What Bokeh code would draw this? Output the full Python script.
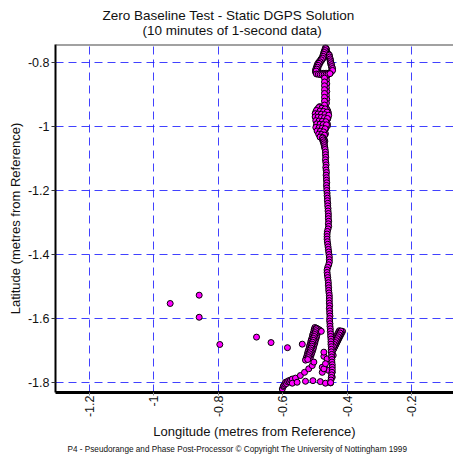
from math import pi
from bokeh.plotting import figure
from bokeh.models import FixedTicker, Span, Title
from bokeh.embed import file_html
from bokeh.resources import INLINE

title_line1 = "Zero Baseline Test - Static DGPS Solution"
title_line2 = "(10 minutes of 1-second data)"
x_label = "Longitude (metres from Reference)"
y_label = "Latitude (metres from Reference)"
footer = "P4 - Pseudorange and Phase Post-Processor \u00a9 Copyright The University of Nottingham 1999"

x_ticks = [-1.2, -1.0, -0.8, -0.6, -0.4, -0.2]
x_tick_labels = ["-1.2", "-1", "-0.8", "-0.6", "-0.4", "-0.2"]
y_ticks = [-1.8, -1.6, -1.4, -1.2, -1.0, -0.8]
y_tick_labels = ["-1.8", "-1.6", "-1.4", "-1.2", "-1", "-0.8"]

# dense cluster at the top of the track
top_lon = [-0.467, -0.469, -0.471, -0.473, -0.475, -0.477, -0.481, -0.485, -0.489, -0.492,
           -0.494, -0.496, -0.498, -0.498, -0.492, -0.486, -0.480, -0.474, -0.468,
           -0.462, -0.465, -0.458, -0.456, -0.455, -0.453, -0.452, -0.451, -0.449, -0.448,
           -0.446, -0.448, -0.452, -0.458, -0.463,
           -0.467, -0.468, -0.467, -0.466, -0.467, -0.468, -0.467, -0.466, -0.467, -0.468,
           -0.467, -0.466, -0.467, -0.468, -0.467, -0.467,
           -0.485, -0.475, -0.465, -0.492, -0.480, -0.470, -0.460, -0.497, -0.487, -0.476,
           -0.463, -0.498, -0.488, -0.478, -0.467, -0.459, -0.496, -0.486, -0.475, -0.464,
           -0.493, -0.482, -0.471, -0.461, -0.495, -0.485, -0.474, -0.465, -0.491, -0.480,
           -0.470, -0.486, -0.476, -0.467, -0.481, -0.472]
top_lat = [-0.754, -0.760, -0.766, -0.772, -0.778, -0.785, -0.790, -0.796, -0.801, -0.806,
           -0.812, -0.818, -0.824, -0.830, -0.832, -0.833, -0.834, -0.834, -0.834,
           -0.768, -0.770, -0.774, -0.780, -0.786, -0.792, -0.798, -0.804, -0.810, -0.816,
           -0.822, -0.828, -0.832, -0.834, -0.834,
           -0.840, -0.846, -0.852, -0.858, -0.864, -0.870, -0.876, -0.882, -0.888, -0.894,
           -0.900, -0.906, -0.912, -0.918, -0.924, -0.930,
           -0.938, -0.940, -0.942, -0.946, -0.948, -0.950, -0.952, -0.955, -0.957, -0.958,
           -0.960, -0.965, -0.967, -0.968, -0.969, -0.972, -0.976, -0.977, -0.979, -0.981,
           -0.987, -0.989, -0.990, -0.992, -0.998, -0.999, -1.001, -1.003, -1.009, -1.011,
           -1.013, -1.019, -1.021, -1.023, -1.029, -1.031]

# second pass through the same top cluster (repeat visits)
top2_lon = [-0.464, -0.466, -0.468, -0.470, -0.472, -0.475, -0.479, -0.483, -0.486, -0.489,
            -0.491, -0.493, -0.493,
            -0.463, -0.464, -0.463, -0.464, -0.463, -0.464, -0.463, -0.464,
            -0.481, -0.471, -0.462, -0.489, -0.478, -0.468, -0.458, -0.494, -0.483, -0.472,
            -0.462, -0.492, -0.481, -0.470, -0.460, -0.490, -0.479, -0.468, -0.492, -0.481,
            -0.471, -0.461, -0.488, -0.477, -0.467, -0.484, -0.474, -0.477, -0.470, -0.474,
            -0.471, -0.469]
top2_lat = [-0.758, -0.764, -0.770, -0.776, -0.782, -0.788, -0.794, -0.800, -0.806, -0.812,
            -0.818, -0.824, -0.830,
            -0.843, -0.855, -0.867, -0.879, -0.891, -0.903, -0.915, -0.927,
            -0.943, -0.945, -0.947, -0.951, -0.953, -0.955, -0.957, -0.962, -0.963, -0.964,
            -0.966, -0.971, -0.972, -0.974, -0.976, -0.982, -0.984, -0.986, -0.993, -0.994,
            -0.996, -0.998, -1.004, -1.006, -1.008, -1.014, -1.016, -1.025, -1.027, -1.034,
            -1.040, -1.046]

# third pass through the top cluster
top3_lon = [-0.466, -0.468, -0.470, -0.472, -0.474, -0.476, -0.480, -0.484, -0.487, -0.490,
            -0.492, -0.494, -0.496,
            -0.455, -0.454, -0.452, -0.451, -0.450, -0.448, -0.447, -0.445, -0.445,
            -0.495, -0.489, -0.483, -0.477, -0.471, -0.465, -0.459, -0.453,
            -0.470, -0.470, -0.470, -0.470, -0.470, -0.470, -0.470, -0.470,
            -0.488, -0.478, -0.468, -0.495, -0.484, -0.473, -0.462, -0.499, -0.490, -0.480,
            -0.469, -0.457, -0.499, -0.490, -0.480, -0.470, -0.461, -0.497, -0.487, -0.477,
            -0.466, -0.494, -0.484, -0.474, -0.464, -0.497, -0.487, -0.477, -0.468, -0.493,
            -0.483, -0.473, -0.488, -0.479, -0.470, -0.484, -0.475, -0.476, -0.473, -0.471,
            -0.470]
top3_lat = [-0.757, -0.763, -0.769, -0.775, -0.781, -0.787, -0.792, -0.798, -0.803, -0.809,
            -0.815, -0.821, -0.827,
            -0.777, -0.783, -0.789, -0.795, -0.801, -0.807, -0.813, -0.819, -0.825,
            -0.836, -0.837, -0.838, -0.838, -0.838, -0.838, -0.837, -0.835,
            -0.849, -0.861, -0.873, -0.885, -0.897, -0.909, -0.921, -0.933,
            -0.941, -0.943, -0.945, -0.950, -0.952, -0.953, -0.955, -0.960, -0.961, -0.962,
            -0.963, -0.965, -0.970, -0.971, -0.972, -0.973, -0.975, -0.982, -0.983, -0.984,
            -0.985, -0.992, -0.993, -0.994, -0.995, -1.003, -1.004, -1.005, -1.007, -1.014,
            -1.015, -1.017, -1.024, -1.025, -1.027, -1.033, -1.035, -1.043, -1.051, -1.058,
            -1.064]

# dark bands near the bottom of the track
band_lon = [-0.500, -0.502, -0.503, -0.505, -0.507, -0.508, -0.510, -0.512, -0.513, -0.515,
            -0.517, -0.518, -0.520, -0.522, -0.523, -0.525, -0.527, -0.529,
            -0.490, -0.492, -0.494, -0.495, -0.497, -0.499, -0.500, -0.502, -0.504, -0.505,
            -0.507, -0.509, -0.511, -0.513, -0.515,
            -0.495, -0.490, -0.485, -0.480,
            -0.414, -0.417, -0.420, -0.423, -0.426, -0.429, -0.432, -0.435, -0.438, -0.441, -0.444,
            -0.424, -0.427, -0.430, -0.433, -0.436, -0.439, -0.442, -0.445]
band_lat = [-1.628, -1.634, -1.640, -1.646, -1.652, -1.658, -1.664, -1.670, -1.676, -1.682,
            -1.688, -1.694, -1.700, -1.706, -1.712, -1.718, -1.724, -1.730,
            -1.640, -1.646, -1.652, -1.658, -1.664, -1.670, -1.676, -1.682, -1.688, -1.694,
            -1.700, -1.706, -1.712, -1.718, -1.724,
            -1.630, -1.633, -1.636, -1.640,
            -1.640, -1.646, -1.652, -1.658, -1.664, -1.670, -1.676, -1.682, -1.688, -1.694, -1.700,
            -1.638, -1.644, -1.650, -1.656, -1.662, -1.668, -1.674, -1.680]

# further passes through the same two bands
band2_lon = [-0.496, -0.497, -0.499, -0.500, -0.502, -0.504, -0.505, -0.507, -0.509, -0.510,
             -0.512, -0.514, -0.515, -0.517, -0.519, -0.520, -0.522,
             -0.419, -0.422, -0.425, -0.428, -0.431, -0.434, -0.437, -0.440, -0.443]
band2_lat = [-1.632, -1.638, -1.644, -1.650, -1.656, -1.662, -1.668, -1.674, -1.680, -1.686,
             -1.692, -1.698, -1.704, -1.710, -1.716, -1.722, -1.728,
             -1.639, -1.645, -1.651, -1.657, -1.663, -1.669, -1.675, -1.681, -1.687]

# loose points of the lower loop
loop_lon = [-0.601, -0.598, -0.596, -0.593, -0.591, -0.588, -0.585, -0.581, -0.578, -0.575,
            -0.570, -0.560, -0.545, -0.532, -0.519, -0.508, -0.503,
            -0.570, -0.555, -0.529, -0.506, -0.483, -0.467, -0.451,
            -0.477, -0.467, -0.457, -0.446, -0.446, -0.477, -0.472,
            -0.472, -0.462, -0.467, -0.472, -0.443]
loop_lat = [-1.820, -1.812, -1.809, -1.805, -1.799, -1.803, -1.797, -1.794, -1.798, -1.792,
            -1.789, -1.786, -1.778, -1.768, -1.757, -1.747, -1.736,
            -1.802, -1.799, -1.796, -1.794, -1.797, -1.802, -1.801,
            -1.752, -1.757, -1.762, -1.768, -1.783, -1.768, -1.757,
            -1.718, -1.726, -1.741, -1.705, -1.715]

# the long vertical run
col_lon = [-0.476, -0.474, -0.472, -0.471, -0.470, -0.469, -0.468, -0.467, -0.467, -0.466,
           -0.467, -0.466, -0.465, -0.466, -0.465, -0.464, -0.465, -0.464, -0.464, -0.463,
           -0.464, -0.463, -0.463, -0.462, -0.462, -0.461, -0.461, -0.460, -0.460, -0.459,
           -0.459, -0.458, -0.458, -0.458, -0.457, -0.458, -0.457, -0.459, -0.461, -0.462,
           -0.462, -0.462, -0.461, -0.460, -0.459, -0.458, -0.457, -0.456, -0.455, -0.455,
           -0.455, -0.457, -0.460, -0.462, -0.462, -0.461, -0.460, -0.459, -0.458, -0.458,
           -0.457, -0.457, -0.456, -0.455, -0.455, -0.455, -0.455, -0.454, -0.455, -0.454,
           -0.454, -0.453, -0.454, -0.454, -0.453, -0.453, -0.452, -0.452, -0.451, -0.451,
           -0.450, -0.450, -0.450, -0.449, -0.449, -0.449, -0.448, -0.448, -0.447, -0.447,
           -0.446, -0.446, -0.446, -0.447, -0.448, -0.449, -0.450, -0.451]
col_lat = [-1.036, -1.042, -1.048, -1.054, -1.060, -1.066, -1.072, -1.080, -1.088, -1.096,
           -1.104, -1.112, -1.120, -1.128, -1.136, -1.144, -1.152, -1.160, -1.168, -1.176,
           -1.184, -1.192, -1.200, -1.208, -1.216, -1.224, -1.232, -1.240, -1.248, -1.256,
           -1.264, -1.272, -1.280, -1.288, -1.296, -1.304, -1.312, -1.320, -1.328, -1.336,
           -1.344, -1.352, -1.360, -1.368, -1.376, -1.384, -1.392, -1.400, -1.408, -1.416,
           -1.424, -1.432, -1.440, -1.448, -1.456, -1.464, -1.472, -1.480, -1.488, -1.496,
           -1.504, -1.512, -1.520, -1.528, -1.536, -1.544, -1.552, -1.560, -1.568, -1.576,
           -1.584, -1.592, -1.600, -1.608, -1.616, -1.624, -1.632, -1.640, -1.648, -1.656,
           -1.664, -1.672, -1.680, -1.688, -1.696, -1.704, -1.712, -1.720, -1.728, -1.736,
           -1.744, -1.752, -1.760, -1.768, -1.776, -1.784, -1.792, -1.800]

# isolated outliers to the west
out_lon = [-0.949, -0.859, -0.859, -0.795, -0.681, -0.636, -0.585, -0.539]
out_lat = [-1.553, -1.527, -1.596, -1.681, -1.658, -1.675, -1.691, -1.680]

FONT = "Liberation Sans"
TXT = "#111111"

p = figure(width=453, height=459, x_range=(-1.305, -0.0696), y_range=(-1.831, -0.744),
           output_backend="svg", toolbar_location=None, title=None,
           min_border_left=55, min_border_right=0, min_border_top=0, min_border_bottom=67)
p.background_fill_color = "white"
p.border_fill_color = "white"
p.outline_line_color = None

# titles stacked outward from the frame: line 2, line 1, then an empty spacer
p.add_layout(Title(text=title_line2, align="left", offset=87, text_font=FONT,
                   text_font_size="13.5px", text_font_style="normal", text_color=TXT,
                   standoff=13), "above")
p.add_layout(Title(text=title_line1, align="left", offset=47, text_font=FONT,
                   text_font_size="13.5px", text_font_style="normal", text_color=TXT,
                   standoff=-17), "above")
p.add_layout(Title(text=" ", align="left", offset=0, text_font=FONT,
                   text_font_size="13.5px", text_font_style="normal", text_color=TXT,
                   standoff=-3.5), "above")
p.add_layout(Title(text=footer, align="left", offset=12, text_font=FONT,
                   text_font_size="8.2px", text_font_style="normal", text_color=TXT,
                   standoff=1), "below")

p.xaxis.ticker = FixedTicker(ticks=x_ticks)
p.xaxis.major_label_overrides = dict(zip(x_ticks, x_tick_labels))
p.yaxis.ticker = FixedTicker(ticks=y_ticks)
p.yaxis.major_label_overrides = dict(zip(y_ticks, y_tick_labels))
p.xaxis.major_label_orientation = pi / 2
p.xaxis.axis_label = x_label
p.yaxis.axis_label = y_label

for ax in (p.xaxis, p.yaxis):
    ax.axis_label_text_font = FONT
    ax.axis_label_text_font_size = "13px"
    ax.axis_label_text_font_style = "normal"
    ax.axis_label_text_color = TXT
    ax.major_label_text_font = FONT
    ax.major_label_text_font_size = "12.5px"
    ax.major_label_text_color = TXT
    ax.minor_tick_line_color = None
    ax.major_tick_in = 0
    ax.axis_line_color = "black"

p.xaxis.axis_label_standoff = 4
p.yaxis.axis_label_standoff = 2
p.xaxis.axis_line_width = 3
p.yaxis.axis_line_width = 2
p.xaxis.major_tick_out = 3
p.xaxis.major_tick_line_color = "#888888"
p.yaxis.major_tick_out = 4
p.yaxis.major_tick_line_color = "#333333"
p.xaxis.major_label_standoff = 0
p.yaxis.major_label_standoff = 2

p.grid.grid_line_color = "#2020ff"
p.grid.grid_line_alpha = 0.85
p.grid.grid_line_dash = "8 5"
p.grid.grid_line_width = 1

p.add_layout(Span(location=-0.744, dimension="width", line_color="#444444", line_width=2))

style = dict(size=6, fill_color="#ff00ff", line_color="black", line_width=1)
p.scatter(band_lon, band_lat, **style)
p.scatter(band2_lon, band2_lat, **style)
p.scatter(top_lon, top_lat, **style)
p.scatter(top2_lon, top2_lat, **style)
p.scatter(top3_lon, top3_lat, **style)
p.scatter(loop_lon, loop_lat, **style)
p.scatter(col_lon, col_lat, **style)
p.scatter(out_lon, out_lat, **style)

open("out.html", "w").write(file_html(p, INLINE))
